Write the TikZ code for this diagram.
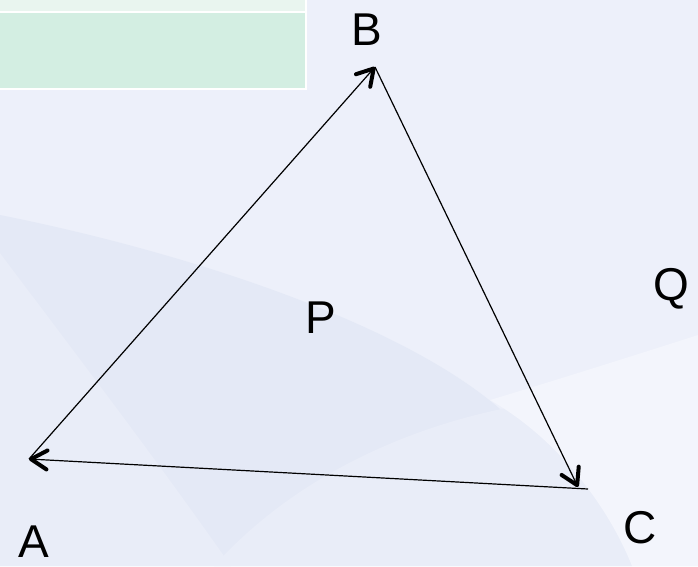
\documentclass[tikz,border=0pt]{standalone}
\usepackage{fontspec}
\setmainfont{Liberation Sans}
\usetikzlibrary{arrows.meta}
\definecolor{bgbase}{HTML}{EDF0FA}
\definecolor{bgband}{HTML}{E4E9F6}
\definecolor{bgmid}{HTML}{E9EDF8}
\definecolor{bglight}{HTML}{F3F5FC}
\definecolor{boxpale}{HTML}{E9F5EF}
\definecolor{boxgreen}{HTML}{D3EEE2}

\begin{document}
\begin{tikzpicture}[x=1pt,y=-1pt,
  side/.style={line width=1.2pt,-{Straight Barb[round,length=16pt,width=19pt,line width=4pt 0]}},
  vlabel/.style={anchor=base,inner sep=0pt,font=\fontsize{46}{50}\selectfont}]
  % Background
  \useasboundingbox (0,0) rectangle (698,566);
  \fill[bgbase] (0,0) rectangle (698,566);
  \fill[bgband] (0,215) .. controls (200,255) and (420,330) .. (512,420)
    .. controls (570,470) and (610,520) .. (632,566) -- (0,566) -- cycle;
  \fill[bgmid] (0,253) .. controls (50,320) and (150,450) .. (231,566) -- (0,566) -- cycle;
  \fill[bgmid] (214,566) .. controls (300,470) and (430,415) .. (556,400)
    -- (698,400) -- (698,566) -- cycle;
  \fill[bglight] (698,335) .. controls (620,360) and (540,385) .. (490,400)
    .. controls (560,440) and (610,510) .. (632,566) -- (698,566) -- cycle;

  % Title strips
  \draw[fill=boxpale,draw=white,line width=2pt] (-2,-2) rectangle (306,12);
  \draw[fill=boxgreen,draw=white,line width=2pt] (-2,12) rectangle (306,89);

  % Vertices
  \coordinate (vA) at (29,459);
  \coordinate (vB) at (375,67);
  \coordinate (vC) at (578,487);
  \coordinate (vCr) at (588,489);

  % Sides
  \draw[side] (vA) -- (vB);
  \draw[side] (vB) -- (vC);
  \draw[side] (vCr) -- (vA);

  % Labels
  \node[vlabel] (labA) at (34,557) {A};
  \node[vlabel] (labB) at (367,45) {B};
  \node[vlabel] (labC) at (640,543) {C};
  \node[vlabel] (labP) at (321,333) {P};
  \node[vlabel] (labQ) at (671,300) {Q};
\end{tikzpicture}
\end{document}
